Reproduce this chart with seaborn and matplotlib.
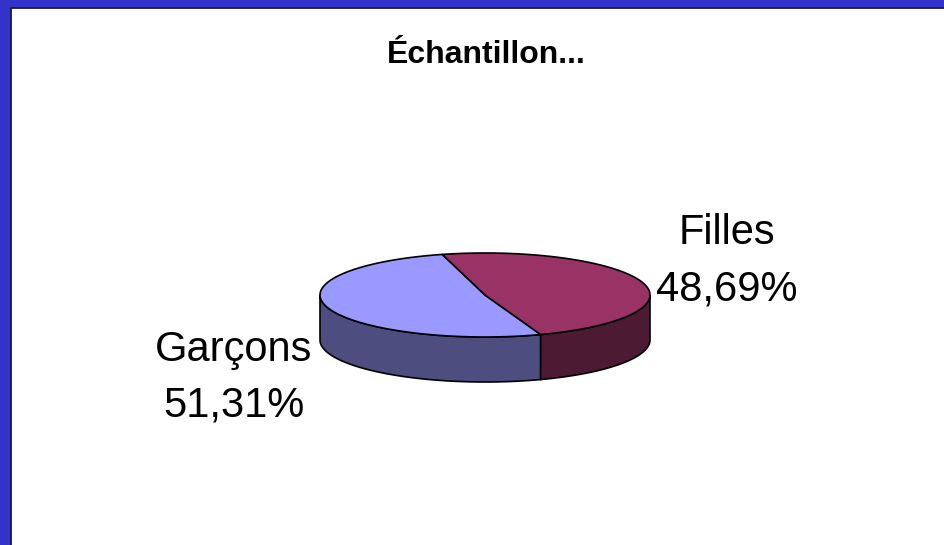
import numpy as np
import matplotlib
matplotlib.use("Agg")
import matplotlib.pyplot as plt
from matplotlib.patches import Polygon, Rectangle
import seaborn as sns

# ---- data ----
categories = ["Garçons", "Filles"]
values = [51.31, 48.69]
title = "Échantillon..."

top_colors = ["#9999FF", "#993366"]
side_colors = ["#4D4D80", "#4D1A33"]

sns.set_theme(style="white")
plt.rcParams["font.family"] = ["Liberation Sans", "DejaVu Sans"]

W, H = 944, 545
fig = plt.figure(figsize=(W / 100, H / 100), dpi=100)
ax = fig.add_axes([0, 0, 1, 1])
ax.set_xlim(0, W)
ax.set_ylim(H, 0)
ax.axis("off")

# frame: blue band top/left with thin dark inner line
ax.add_patch(Rectangle((0, 0), W, 7.5, color="#3333CC", zorder=5, lw=0))
ax.add_patch(Rectangle((0, 0), 10.5, H, color="#3333CC", zorder=5, lw=0))
ax.plot([10.8, 10.8, W], [H, 7.8, 7.8], color="#1a1a40", lw=1.3, zorder=6)

# 3D pie geometry
cx, cy = 485, 295
a, b = 165, 42
depth = 45
start = 105.0

def pt(theta_deg, dy=0.0):
    t = np.deg2rad(theta_deg)
    return cx + a * np.cos(t), cy - b * np.sin(t) + dy

fracs = np.array(values) / np.sum(values)
angles = start + np.concatenate([[0], np.cumsum(fracs) * 360])

# side faces (front visible part)
for i in range(len(values)):
    t0, t1 = angles[i], angles[i + 1]
    for lo, hi in [(180, 360), (540, 720)]:
        s0, s1 = max(t0, lo), min(t1, hi)
        if s1 > s0:
            ts = np.linspace(s0, s1, 80)
            top = [pt(t) for t in ts]
            bot = [pt(t, depth) for t in ts[::-1]]
            ax.add_patch(Polygon(top + bot, closed=True, facecolor=side_colors[i],
                                 edgecolor="black", lw=1.2, zorder=2))

# top faces
for i in range(len(values)):
    t0, t1 = angles[i], angles[i + 1]
    ts = np.linspace(t0, t1, 150)
    verts = [(cx, cy)] + [pt(t) for t in ts]
    ax.add_patch(Polygon(verts, closed=True, facecolor=top_colors[i],
                         edgecolor="black", lw=1.2, zorder=3, joinstyle="round"))

# title
ax.text(486, 55, title, ha="center", va="center", fontsize=23, fontweight="bold",
        color="black", zorder=7)

# labels
label_pos = {"Garçons": (234, 350), "Filles": (727, 233)}
for cat, val in zip(categories, values):
    x, y = label_pos[cat]
    pct = f"{val:.2f}".replace(".", ",") + "%"
    ax.text(x, y, cat, ha="center", va="center", fontsize=30, color="black", zorder=7)
    ax.text(x, y + 56, pct, ha="center", va="center", fontsize=30, color="black", zorder=7)

fig.savefig("out.png", dpi=100, facecolor="white")
